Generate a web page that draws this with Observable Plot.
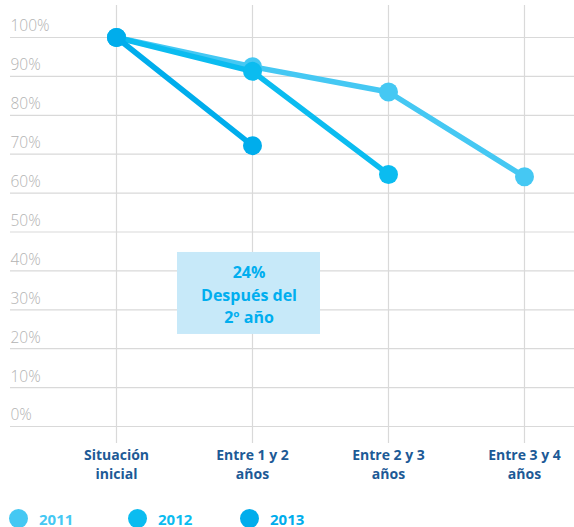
<!DOCTYPE html>
<html>
<head>
<meta charset="utf-8">
<script src="https://cdn.jsdelivr.net/npm/d3@7"></script>
<script src="https://cdn.jsdelivr.net/npm/@observablehq/plot@0.6"></script>
<style>
  html, body { margin: 0; padding: 0; background: #fff; overflow: hidden; }
  body { width: 574px; height: 527px; font-family: "Open Sans", Lato, sans-serif; }
  #legend { position: relative; height: 22px; }
  .item { position: absolute; top: 4px; display: flex; align-items: center; font-weight: 700; font-size: 15px; line-height: 18px; height: 19px; }
  .sw { width: 19px; height: 19px; border-radius: 50%; margin-right: 11px; }
</style>
</head>
<body>
<div id="chart"></div>
<div id="legend"></div>
<script>
const categories = ["Situación inicial", "Entre 1 y 2 años", "Entre 2 y 3 años", "Entre 3 y 4 años"];
const categoryLabels = ["Situación\ninicial", "Entre 1 y 2\naños", "Entre 2 y 3\naños", "Entre 3 y 4\naños"];
const series = ["2011", "2012", "2013"];
const values2011 = [100, 92.5, 86, 64.2];
const values2012 = [100, 91.3, 64.8];
const values2013 = [100, 72.2];
const colors = ["#45c8f3", "#0bbcf0", "#00adec"];
const yTicks = [0, 10, 20, 30, 40, 50, 60, 70, 80, 90, 100];
const noteText = "24%\nDespués del\n2º año";
const noteAt = {x: "Entre 1 y 2 años", y: 34.2};

const data = [];
[values2011, values2012, values2013].forEach((vals, i) => {
  vals.forEach((v, j) => data.push({series: series[i], cat: categories[j], value: v}));
});

const labelOf = new Map(categories.map((c, i) => [c, categoryLabels[i]]));

const noteBox = (index, scales, values, dims, context) => {
  const cx = scales.x(noteAt.x) - 3.5;
  const cy = scales.y(noteAt.y);
  const w = 143, h = 82;
  const r = document.createElementNS("http://www.w3.org/2000/svg", "rect");
  r.setAttribute("x", cx - w / 2);
  r.setAttribute("y", cy - h / 2);
  r.setAttribute("width", w);
  r.setAttribute("height", h);
  r.setAttribute("fill", "#c7e9f9");
  return r;
};

const chart = Plot.plot({
  width: 574,
  height: 505,
  marginLeft: 10,
  marginRight: 0,
  marginTop: 5,
  marginBottom: 62,
  style: {fontFamily: "'Open Sans', Lato, sans-serif", background: "#fff"},
  x: {type: "point", domain: categories, range: [115, 524], padding: 0, axis: null},
  y: {domain: [0, 100], range: [426, 37], axis: null},
  marks: [
    Plot.ruleY(yTicks, {stroke: "#d9d9d9", strokeWidth: 1.2}),
    Plot.ruleX(categories, {stroke: "#d9d9d9", strokeWidth: 1.2}),
    Plot.text(yTicks, {y: d => d, frameAnchor: "left", textAnchor: "start", dy: -11, text: d => d + "%", fill: "#b3b3b3", fontSize: 15.5, fontWeight: 300}),
    Plot.text(categories, {x: d => d, frameAnchor: "bottom", dy: 4, text: d => labelOf.get(d), fill: "#1d5a96", fontSize: 14, fontWeight: 700, lineHeight: 1.3, lineAnchor: "top"}),
    noteBox,
    Plot.text([noteText], {x: () => noteAt.x, y: () => noteAt.y, dx: -3.5, text: d => d, fill: "#00aeef", fontSize: 16, fontWeight: 700, lineHeight: 1.42}),
    ...series.map((s, i) => [
      Plot.line(data.filter(d => d.series === s), {x: "cat", y: "value", stroke: colors[i], strokeWidth: 5.5}),
      Plot.dot(data.filter(d => d.series === s), {x: "cat", y: "value", fill: colors[i], r: 9.5})
    ]).flat()
  ]
});
document.getElementById("chart").appendChild(chart);

const legendX = [9, 128, 240];
const leg = document.getElementById("legend");
series.forEach((s, i) => {
  const it = document.createElement("div");
  it.className = "item";
  it.style.left = legendX[i] + "px";
  it.style.color = colors[i];
  const sw = document.createElement("span");
  sw.className = "sw";
  sw.style.background = colors[i];
  it.appendChild(sw);
  it.appendChild(document.createTextNode(s));
  leg.appendChild(it);
});
</script>
</body>
</html>
